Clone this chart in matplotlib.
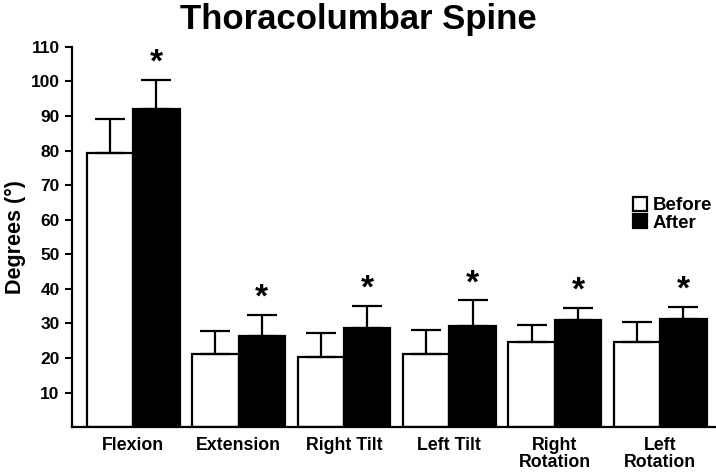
import numpy as np
import matplotlib
matplotlib.use('Agg')
import matplotlib.pyplot as plt

plt.rcParams['font.family'] = ['Liberation Sans', 'DejaVu Sans']
plt.rcParams['font.weight'] = 'bold'

# data
categories = ['Flexion', 'Extension', 'Right Tilt', 'Left Tilt', 'Right\nRotation', 'Left\nRotation']
before = [79.4, 21.2, 20.4, 21.2, 24.7, 24.7]
before_err = [9.6, 6.6, 6.7, 6.8, 4.8, 5.7]
after = [92.0, 26.3, 28.6, 29.3, 31.0, 31.4]
after_err = [8.5, 6.2, 6.5, 7.4, 3.5, 3.4]

fig = plt.figure(figsize=(7.16, 4.74), dpi=100, facecolor='white')
ax = fig.add_axes([0.1006, 0.099, 0.898, 0.802])

x = np.arange(len(categories))
w = 0.44
ekw = dict(elinewidth=1.6, capthick=1.6, ecolor='black')
ax.bar(x - w/2, before, w, color='white', edgecolor='black', linewidth=1.6,
       yerr=[np.zeros(len(before)), before_err], capsize=11, error_kw=ekw, label='Before')
ax.bar(x + w/2, after, w, color='black', edgecolor='black', linewidth=1.6,
       yerr=[np.zeros(len(after)), after_err], capsize=11, error_kw=ekw, label='After')

for xi, a, e in zip(x, after, after_err):
    ax.text(xi + w/2, a + e + 0.3, '*', ha='center', va='bottom', fontsize=24, fontweight='bold')

ax.set_xlim(-0.58, 5.52)
ax.set_ylim(0, 110)
ax.set_yticks(range(10, 111, 10))
ax.set_xticks(x)
ax.set_xticklabels(categories, fontsize=12.8, fontweight='bold', linespacing=1.05)
ax.tick_params(axis='x', length=0, pad=7)
ax.tick_params(axis='y', length=5, width=1.5, labelsize=12.5, pad=4)
for lab in ax.get_yticklabels():
    lab.set_fontweight('bold')
ax.spines['top'].set_visible(False)
ax.spines['right'].set_visible(False)
ax.spines['left'].set_linewidth(1.6)
ax.spines['bottom'].set_linewidth(1.6)
ax.set_ylabel('Degrees (°)', fontsize=15.5, fontweight='bold', labelpad=3)

ax.legend(loc='upper left', bbox_to_anchor=(0.872, 0.605), frameon=False, fontsize=13.5,
          handlelength=0.75, handleheight=0.75, handletextpad=0.3, labelspacing=0.0,
          borderpad=0, borderaxespad=0)

fig.suptitle('Thoracolumbar Spine', fontsize=25, fontweight='bold', y=0.993, x=0.5)

fig.savefig('out.png', dpi=100, facecolor=fig.get_facecolor())
